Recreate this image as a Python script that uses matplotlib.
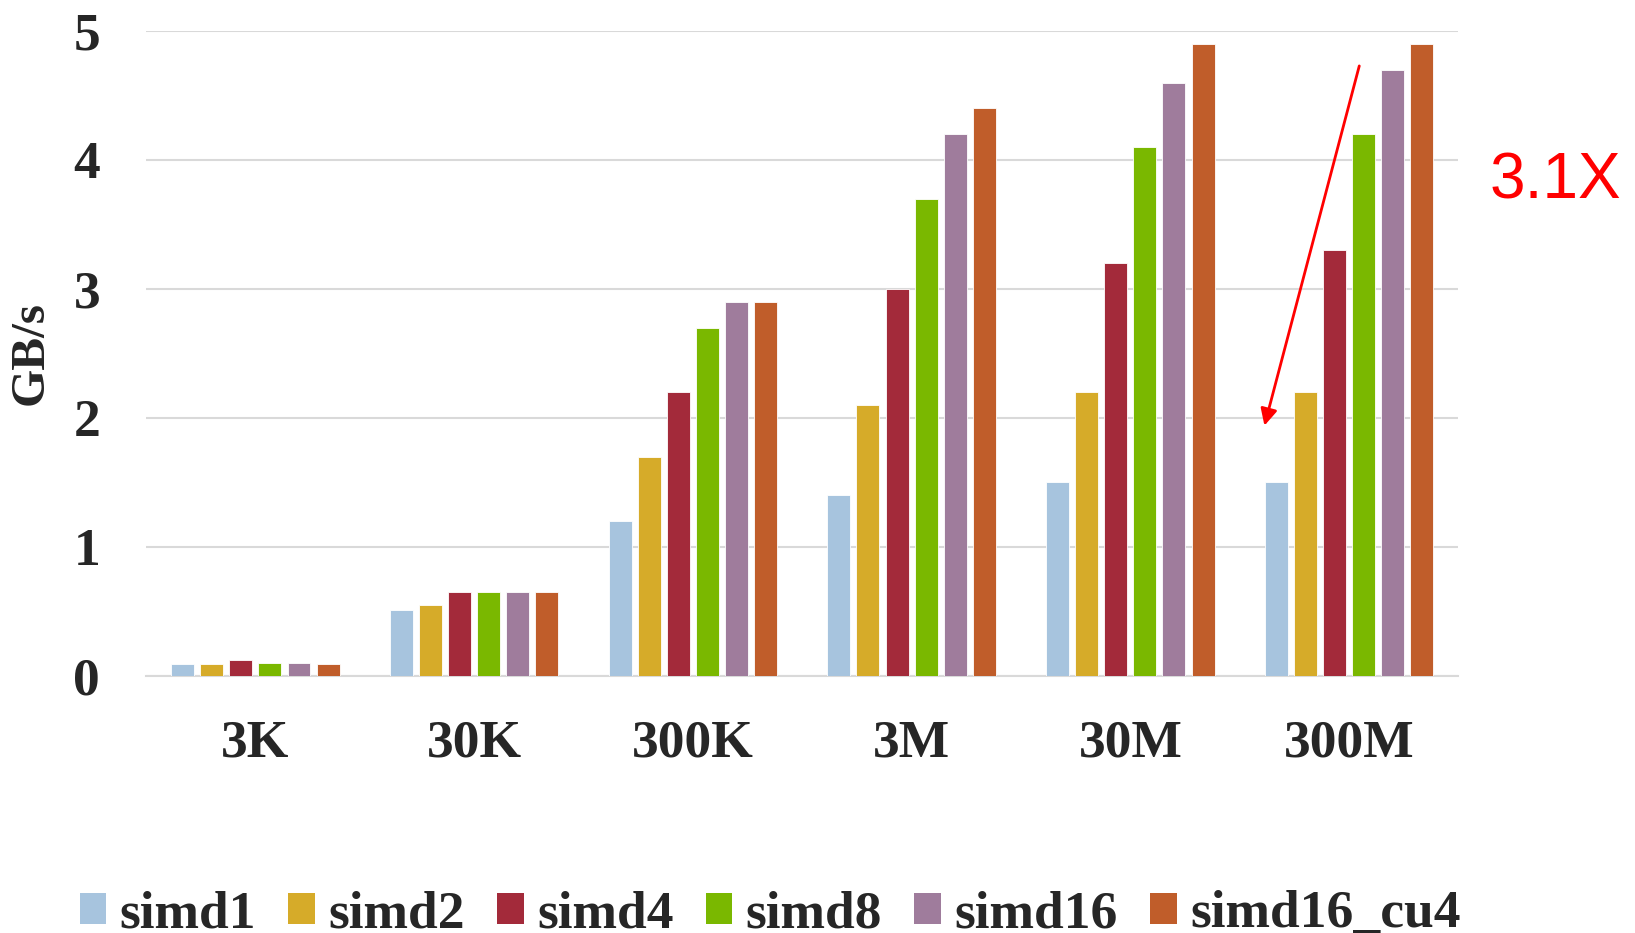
import matplotlib.pyplot as plt
import numpy as np
from matplotlib.patches import Patch

# данные
categories = ['3K', '30K', '300K', '3M', '30M', '300M']
series = ['simd1', 'simd2', 'simd4', 'simd8', 'simd16', 'simd16_cu4']
simd1 = [0.09, 0.51, 1.2, 1.4, 1.5, 1.5]
simd2 = [0.09, 0.55, 1.7, 2.1, 2.2, 2.2]
simd4 = [0.12, 0.65, 2.2, 3.0, 3.2, 3.3]
simd8 = [0.10, 0.65, 2.7, 3.7, 4.1, 4.2]
simd16 = [0.10, 0.65, 2.9, 4.2, 4.6, 4.7]
simd16_cu4 = [0.09, 0.65, 2.9, 4.4, 4.9, 4.9]
colors = ['#A7C4DE', '#D6AB29', '#A32A3A', '#7AB800', '#9F7C9C', '#C05D2A']

values = [simd1, simd2, simd4, simd8, simd16, simd16_cu4]

fig = plt.figure(figsize=(16.35, 9.33), dpi=100)
ax = fig.add_axes([0.0893, 0.2755, 0.8027, 0.6913])

serif = ['Liberation Serif', 'DejaVu Serif']
x = np.arange(len(categories))
step = 0.133
width = 0.105
for j, (name, vals) in enumerate(zip(series, values)):
    ax.bar(x + (j - 2.5) * step, vals, width, color=colors[j],
           edgecolor='white', linewidth=0.6, zorder=3)

ax.set_xlim(-0.5, 5.5)
ax.set_ylim(0, 5)
ax.set_yticks(range(6))
ax.grid(axis='y', color='#d9d9d9', linewidth=1.5, zorder=0)
for s in ['top', 'right', 'left']:
    ax.spines[s].set_visible(False)
ax.spines['bottom'].set_color('#d9d9d9')
ax.spines['bottom'].set_linewidth(1.5)
ax.tick_params(length=0)
ax.tick_params(axis='x', pad=31)
ax.tick_params(axis='y', pad=33)
ax.set_xticks(x)
ax.set_xticklabels(categories)
for lab in ax.get_xticklabels() + ax.get_yticklabels():
    lab.set_fontfamily(serif)
    lab.set_fontweight('bold')
    lab.set_fontsize(38.5)
    lab.set_color('#262626')

ax.set_ylabel('GB/s', fontfamily=serif, fontweight='bold', fontsize=35.5, color='#262626')
ax.yaxis.set_label_coords(-0.071, 0.5)

# стрелка и подпись ускорения
ax.annotate('', xy=(4.61, 1.92), xytext=(5.05, 4.75),
            arrowprops=dict(arrowstyle='-|>', color='red', lw=2, mutation_scale=25))
fig.text(0.951, 0.805, '3.1X', color='red', fontsize=46,
         fontfamily=['Liberation Sans', 'DejaVu Sans'], ha='center', va='center')

handles = [Patch(facecolor=c, label=n) for c, n in zip(colors, series)]
fig.legend(handles=handles, loc='center', bbox_to_anchor=(0.471, 0.02), ncol=6,
           frameon=False, handlelength=0.5, handleheight=0.5, handletextpad=0.25,
           columnspacing=0.6, prop={'family': serif, 'weight': 'bold', 'size': 38.5},
           labelcolor='#262626')

fig.savefig('out.png', dpi=100)
